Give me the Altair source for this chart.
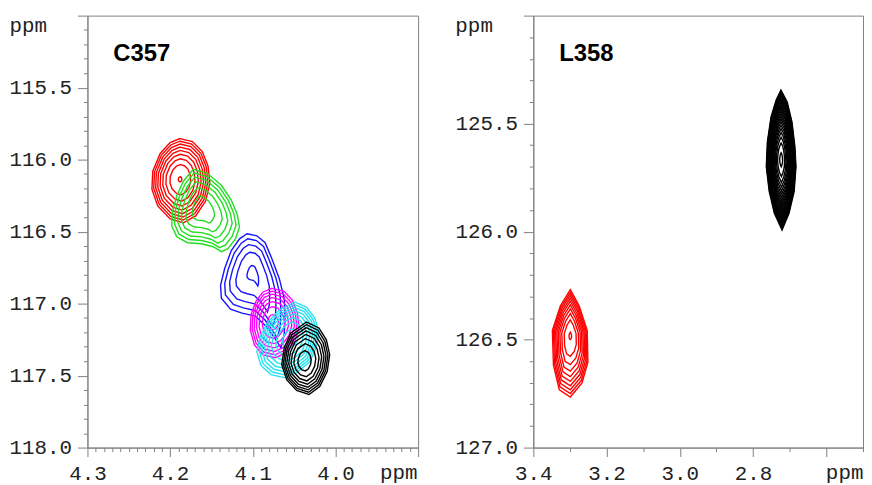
import altair as alt
import pandas as pd
import numpy as np

# ---------------- data: outer contour vertices (1H ppm, 15N ppm) ----------
# Panel C357
red_a_h = [4.188, 4.173, 4.161, 4.154, 4.152, 4.157, 4.169, 4.184, 4.200, 4.215, 4.222, 4.221, 4.212, 4.200]
red_a_n = [115.854, 115.875, 115.944, 116.047, 116.164, 116.288, 116.391, 116.439, 116.412, 116.322, 116.205, 116.081, 115.957, 115.882]
red_a_c = (4.188, 116.136)

green_a_h = [4.172, 4.155, 4.138, 4.126, 4.119, 4.116, 4.121, 4.130, 4.138, 4.148, 4.162, 4.179, 4.192, 4.198, 4.197, 4.192, 4.184]
green_a_n = [116.067, 116.095, 116.178, 116.281, 116.377, 116.467, 116.550, 116.618, 116.639, 116.605, 116.584, 116.577, 116.536, 116.460, 116.357, 116.253, 116.150]
green_a_c = (4.161, 116.343)

blue_a_h = [4.107, 4.095, 4.085, 4.077, 4.068, 4.062, 4.061, 4.062, 4.066, 4.072, 4.083, 4.097, 4.113, 4.127, 4.138, 4.139, 4.134, 4.126, 4.116]
blue_a_n = [116.515, 116.529, 116.577, 116.687, 116.825, 116.963, 117.100, 117.218, 117.307, 117.252, 117.163, 117.087, 117.066, 117.039, 116.963, 116.873, 116.756, 116.632, 116.550]
blue_a_c = (4.100, 116.784)

magenta_a_h = [4.077, 4.062, 4.052, 4.046, 4.044, 4.049, 4.060, 4.073, 4.088, 4.098, 4.103, 4.102, 4.096, 4.088]
magenta_a_n = [116.894, 116.915, 116.977, 117.066, 117.163, 117.259, 117.342, 117.376, 117.355, 117.287, 117.183, 117.073, 116.983, 116.921]
magenta_a_c = (4.076, 117.128)

cyan_a_h = [4.049, 4.035, 4.025, 4.020, 4.023, 4.031, 4.047, 4.062, 4.078, 4.090, 4.095, 4.091, 4.082, 4.067]
cyan_a_n = [116.990, 117.025, 117.101, 117.197, 117.300, 117.404, 117.479, 117.514, 117.493, 117.431, 117.335, 117.231, 117.128, 117.039]
cyan_a_c = (4.054, 117.238)

black_a_h = [4.035, 4.020, 4.011, 4.007, 4.010, 4.019, 4.032, 4.047, 4.059, 4.065, 4.062, 4.054]
black_a_n = [117.128, 117.169, 117.252, 117.355, 117.472, 117.576, 117.631, 117.603, 117.528, 117.424, 117.307, 117.204]
black_a_c = (4.038, 117.404)

# Panel L358
red_b_h = [3.299, 3.275, 3.253, 3.251, 3.267, 3.299, 3.329, 3.345, 3.348, 3.326]
red_b_n = [126.269, 126.343, 126.457, 126.605, 126.701, 126.766, 126.733, 126.618, 126.457, 126.343]
red_b_c = (3.299, 126.480)

black_b_h = [2.724, 2.707, 2.694, 2.686, 2.683, 2.688, 2.702, 2.721, 2.742, 2.756, 2.764, 2.761, 2.751, 2.737]
black_b_n = [125.345, 125.400, 125.492, 125.607, 125.699, 125.814, 125.915, 125.993, 125.915, 125.814, 125.699, 125.584, 125.469, 125.391]
black_b_c = (2.7235, 125.667)

# number of contour levels and relative size of the innermost level
peaks_a = [
    ("red", red_a_h, red_a_n, red_a_c, 9, 0.06, "#ff0000"),
    ("green", green_a_h, green_a_n, green_a_c, 6, 0.33, "#22dd22"),
    ("blue", blue_a_h, blue_a_n, blue_a_c, 5, 0.18, "#1414ff"),
    ("magenta", magenta_a_h, magenta_a_n, magenta_a_c, 7, 0.22, "#ff00ff"),
    ("cyan", cyan_a_h, cyan_a_n, cyan_a_c, 8, 0.25, "#22e2f0"),
    ("black", black_a_h, black_a_n, black_a_c, 8, 0.28, "#000000"),
]
peaks_b = [
    ("red", red_b_h, red_b_n, red_b_c, 10, 0.07, "#ff0000"),
    ("black", black_b_h, black_b_n, black_b_c, 22, 0.10, "#000000"),
]


def contour_rows(xs, ys, c, n, inner):
    rows = []
    cx, cy = c
    for k in range(n):
        s = np.sqrt(inner ** 2 + (1 - inner ** 2) * (1 - k / (n - 1)))
        for i, (x, y) in enumerate(zip(xs, ys)):
            rows.append({"ring": k, "idx": i, "h": cx + (x - cx) * s, "n": cy + (y - cy) * s})
    return pd.DataFrame(rows)


FONT_MONO = "Liberation Mono"


def axis_for(vals, maj, hide, tick_major, **kw):
    shown = f"({maj}) && !({hide})"
    return alt.Axis(
        values=vals,
        labelExpr=f"{shown} ? format(datum.value, '.1f') : ''",
        labelFontSize={"condition": {"test": shown, "value": 21}, "value": 0},
        tickSize={"condition": {"test": maj, "value": tick_major}, "value": 4},
        labelPadding=6,
        labelFlush=False,
        labelOverlap=False,
        title="ppm",
        grid=False,
        **kw,
    )


def panel(peaks, xdom, ydom, xvals, yvals, xmaj, ymaj, xhide, yhide, label, w, h):
    xs = alt.Scale(domain=xdom, reverse=True, nice=False, zero=False)
    ys = alt.Scale(domain=ydom, reverse=True, nice=False, zero=False)
    xaxis = axis_for(xvals, xmaj, xhide, 9,
                     titleX=313, titleY=31, titleAlign="center", titleBaseline="alphabetic")
    yaxis = axis_for(yvals, ymaj, yhide, 10,
                     titleAngle=0, titleX=-79, titleY=16, titleAlign="left", titleBaseline="alphabetic")
    layers = []
    for name, hx, ny, c, n, inner, col in peaks:
        df = contour_rows(hx, ny, c, n, inner)
        enc = dict(
            x=alt.X("h:Q", scale=xs, axis=xaxis),
            y=alt.Y("n:Q", scale=ys, axis=yaxis),
            detail="ring:N",
            order="idx:Q",
        )
        layers.append(
            alt.Chart(df).mark_line(color=col, strokeWidth=1.4, interpolate="linear-closed").encode(**enc)
        )
    txt = alt.Chart(pd.DataFrame({"label": [label]})).mark_text(
        font="Liberation Sans", fontSize=24, fontWeight="bold", align="left",
        baseline="alphabetic", color="#000000"
    ).encode(text="label:N", x=alt.value(26), y=alt.value(46))
    layers.append(txt)
    return alt.layer(*layers).properties(width=w, height=h)


ticks_x_a = [round(v / 100, 2) for v in range(390, 431)]
ticks_y_a = [round(v / 10, 1) for v in range(1150, 1181)]
ticks_x_b = [round(v / 10, 1) for v in range(25, 35)]
ticks_y_b = [round(v / 10, 1) for v in range(1250, 1271)]

left = panel(
    peaks_a, [3.9, 4.3], [115.0, 118.0], ticks_x_a, ticks_y_a,
    "abs(datum.value*10 - round(datum.value*10)) < 0.001",
    "abs(datum.value*2 - round(datum.value*2)) < 0.001",
    "datum.value < 3.95", "datum.value < 115.05", "C357", 333, 435,
)
right = panel(
    peaks_b, [2.5, 3.4], [125.0, 127.0], ticks_x_b, ticks_y_b,
    "abs(datum.value*5 - round(datum.value*5)) < 0.001",
    "abs(datum.value*2 - round(datum.value*2)) < 0.001",
    "datum.value < 2.65", "datum.value < 125.05", "L358", 332, 435,
)

chart = alt.hconcat(left, right, spacing=35).properties(
    padding={"left": 0, "top": 4, "right": 0, "bottom": 0}
).configure_view(
    stroke="#808080", strokeWidth=1
).configure_axis(
    labelFont=FONT_MONO, labelColor="#222222",
    titleFont=FONT_MONO, titleFontSize=21, titleFontWeight="normal", titleColor="#222222",
    domainColor="#808080", tickColor="#808080", domainWidth=1, tickWidth=1,
)

chart.save("out.html", embed_options={"renderer": "svg", "actions": False})
